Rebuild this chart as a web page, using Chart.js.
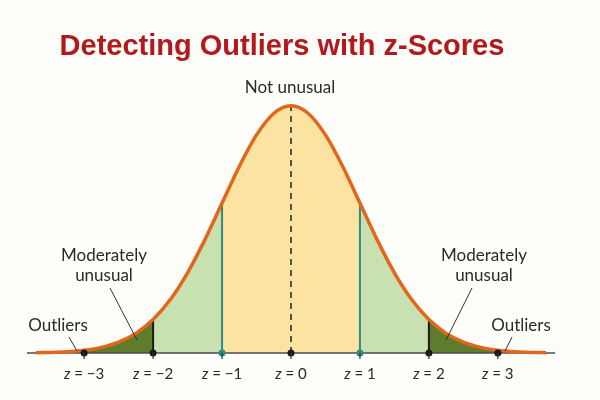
<!DOCTYPE html>
<html>
<head>
<meta charset="utf-8">
<script src="https://cdn.jsdelivr.net/npm/chart.js@4"></script>
<style>
  html, body { margin: 0; background: #fdfdf9; }
</style>
</head>
<body>
<canvas id="chart" width="600" height="400"></canvas>
<script>
// z positions along the curve and the curve height
const zValues = [-3.7, -3.5, -3.25, -3, -2.75, -2.5, -2.25, -2, -1.75, -1.5, -1.25, -1, -0.75, -0.5, -0.25,
  0, 0.25, 0.5, 0.75, 1, 1.25, 1.5, 1.75, 2, 2.25, 2.5, 2.75, 3, 3.25, 3.5, 3.7];
const density = [0.0005, 0.0009, 0.002, 0.0044, 0.0091, 0.0175, 0.0317, 0.054, 0.0863, 0.1295, 0.1826, 0.242, 0.3011, 0.3521, 0.3867,
  0.399, 0.3867, 0.3521, 0.3011, 0.242, 0.1826, 0.1295, 0.0863, 0.054, 0.0317, 0.0175, 0.0091, 0.0044, 0.002, 0.0009, 0.0005];

const tickZ = [-3, -2, -1, 0, 1, 2, 3];
const tickLabels = ['\u22123', '\u22122', '\u22121', '0', '1', '2', '3'];
const axisRange = [-3.83, 3.83];

// shaded bands: [from, to, colour]
const bands = [
  [-3.7, -3, '#c0301a'],
  [-3, -2, '#5f7b2c'],
  [-2, -1, '#c9e0b0'],
  [-1, 1, '#fde3a1'],
  [1, 2, '#c9e0b0'],
  [2, 3, '#5f7b2c'],
  [3, 3.7, '#c0301a']
];

const curve = zValues.map((z, i) => ({ x: z, y: density[i] }));
const heightAt = z => density[zValues.indexOf(z)];

const datasets = [];
bands.forEach(([a, b, color]) => {
  datasets.push({
    data: curve.filter(p => p.x >= a && p.x <= b),
    backgroundColor: color, borderWidth: 0, pointRadius: 0,
    fill: 'origin', cubicInterpolationMode: 'monotone', order: 6
  });
});

// vertical markers at z = ±1, ±2, 0
const markers = [[-2, '#1a1a1a', []], [-1, '#2b8c84', []], [1, '#2b8c84', []], [2, '#1a1a1a', []], [0, '#222', [6, 5]]];
markers.forEach(([z, color, dash]) => {
  datasets.push({
    data: [{ x: z, y: 0 }, { x: z, y: heightAt(z) }],
    borderColor: color, borderWidth: z === 0 ? 1.5 : 2, borderDash: dash,
    pointRadius: 0, fill: false, order: 4
  });
});

datasets.push({
  data: axisRange.map(z => ({ x: z, y: 0 })),
  borderColor: '#4a4a4a', borderWidth: 1.5, pointRadius: 0, fill: false, clip: false, order: 3
});

datasets.push({
  data: curve, borderColor: '#e2661c', borderWidth: 3.5, pointRadius: 0,
  fill: false, cubicInterpolationMode: 'monotone', clip: false, order: 2
});

datasets.push({
  data: tickZ.map(z => ({ x: z, y: 0 })), showLine: false, clip: false,
  pointRadius: 3.5, pointBorderWidth: 0,
  pointBackgroundColor: tickZ.map(z => Math.abs(z) === 1 ? '#2b8c84' : '#1a1a1a'), order: 1
});

const notes = [
  { lines: ['Not unusual'], x: 290, y: 93 },
  { lines: ['Moderately', 'unusual'], x: 104, y: 261 },
  { lines: ['Moderately', 'unusual'], x: 484, y: 261 },
  { lines: ['Outliers'], x: 58, y: 331 },
  { lines: ['Outliers'], x: 521, y: 331 }
];
const pointers = [
  [110, 288, 137, 340], [472, 288, 446, 340], [69, 337, 77, 351], [512, 337, 505, 351]
];

const overlay = {
  id: 'overlay',
  beforeDraw(chart) {
    const ctx = chart.ctx;
    ctx.save();
    ctx.fillStyle = '#fdfdf9';
    ctx.fillRect(0, 0, chart.width, chart.height);
    ctx.restore();
  },
  afterDraw(chart) {
    const ctx = chart.ctx;
    const xs = chart.scales.x, ys = chart.scales.y;
    const y0 = ys.getPixelForValue(0);
    ctx.save();
    ctx.fillStyle = '#b3181d';
    ctx.font = 'bold 29px "Liberation Sans", Arial, sans-serif';
    ctx.textAlign = 'center';
    ctx.textBaseline = 'alphabetic';
    ctx.fillText('Detecting Outliers with z-Scores', 282, 55);

    // small tick marks and labels
    ctx.strokeStyle = '#333';
    ctx.lineWidth = 1.2;
    ctx.fillStyle = '#2a2a2a';
    tickZ.forEach((z, i) => {
      const px = xs.getPixelForValue(z);
      ctx.beginPath();
      ctx.moveTo(px, y0);
      ctx.lineTo(px, y0 + 6);
      ctx.stroke();
      const italic = 'italic 15px Lato, sans-serif';
      const plain = '15px Lato, sans-serif';
      const rest = ' = ' + tickLabels[i];
      ctx.font = italic;
      const wz = ctx.measureText('z').width;
      ctx.font = plain;
      const wr = ctx.measureText(rest).width;
      const left = px - (wz + wr) / 2;
      ctx.textAlign = 'left';
      ctx.font = italic;
      ctx.fillText('z', left, 379);
      ctx.font = plain;
      ctx.fillText(rest, left + wz, 379);
    });

    ctx.textAlign = 'center';
    ctx.font = '17px Lato, sans-serif';
    notes.forEach(n => n.lines.forEach((t, k) => ctx.fillText(t, n.x, n.y + k * 20)));
    ctx.strokeStyle = '#333';
    ctx.lineWidth = 1;
    pointers.forEach(([x1, y1, x2, y2]) => {
      ctx.beginPath();
      ctx.moveTo(x1, y1);
      ctx.lineTo(x2, y2);
      ctx.stroke();
    });
    ctx.restore();
  }
};

new Chart(document.getElementById('chart'), {
  type: 'line',
  data: { datasets },
  options: {
    responsive: false,
    animation: false,
    devicePixelRatio: 1,
    layout: { padding: { left: 29, right: 47, top: 104, bottom: 47 } },
    plugins: { legend: { display: false }, tooltip: { enabled: false } },
    scales: {
      x: { type: 'linear', min: -3.8, max: 3.8, display: false },
      y: { min: 0, max: 0.402, display: false }
    }
  },
  plugins: [overlay]
});
</script>
</body>
</html>
